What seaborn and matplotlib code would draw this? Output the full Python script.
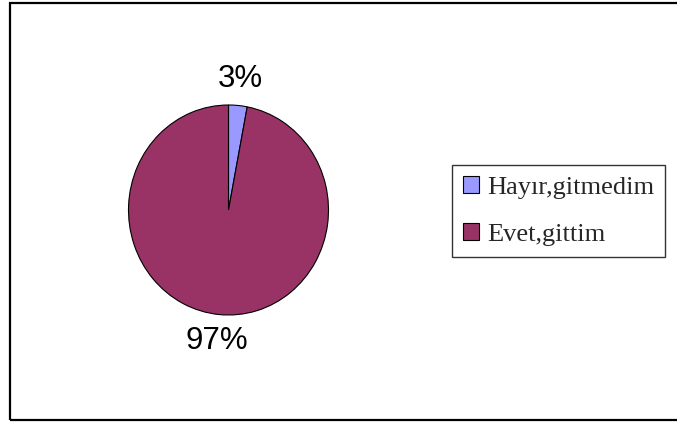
import matplotlib
matplotlib.use("Agg")
import matplotlib.pyplot as plt
from matplotlib.patches import Patch, Rectangle
import seaborn as sns

# Survey answers and their shares (percent)
categories = ["Hayır,gitmedim", "Evet,gittim"]
shares = [3, 97]
colors = ["#9999FF", "#993366"]

sns.set_theme(style="white")
palette = sns.color_palette(colors)

fig = plt.figure(figsize=(6.77, 4.23), dpi=100)

# outer chart frame
fig.patches.append(Rectangle((10 / 677, 3 / 423), 1.0, 417 / 423,
                             transform=fig.transFigure, fill=False,
                             edgecolor="black", linewidth=1.6, zorder=0))

# pie area is slightly taller than wide
ax = fig.add_axes([(228.5 - 100) / 677, (423 - 315) / 423, 200 / 677, 210 / 423])
wedges, texts, autotexts = ax.pie(
    shares, colors=palette, startangle=90, counterclock=False,
    autopct="%1.0f%%", pctdistance=1.25,
    wedgeprops=dict(edgecolor="black", linewidth=0.8),
    textprops=dict(family="Liberation Sans", fontsize=22.5, color="black"),
)
ax.set_xlim(-1, 1)
ax.set_ylim(-1, 1)
ax.set_aspect("auto")
ax.axis("off")

handles = [Patch(facecolor=c, edgecolor="black", linewidth=0.8) for c in palette]
leg = fig.legend(handles, categories, loc="upper left",
                 bbox_to_anchor=(452 / 677, 1 - 165 / 423),
                 prop=dict(family="Liberation Serif", size=19),
                 frameon=True, fancybox=False, edgecolor="black",
                 handlelength=0.6, handleheight=0.6, handletextpad=0.3,
                 labelspacing=0.92, borderpad=0.42, borderaxespad=0)
leg.get_frame().set_linewidth(1.0)

fig.savefig("out.png", dpi=100, facecolor="white")
